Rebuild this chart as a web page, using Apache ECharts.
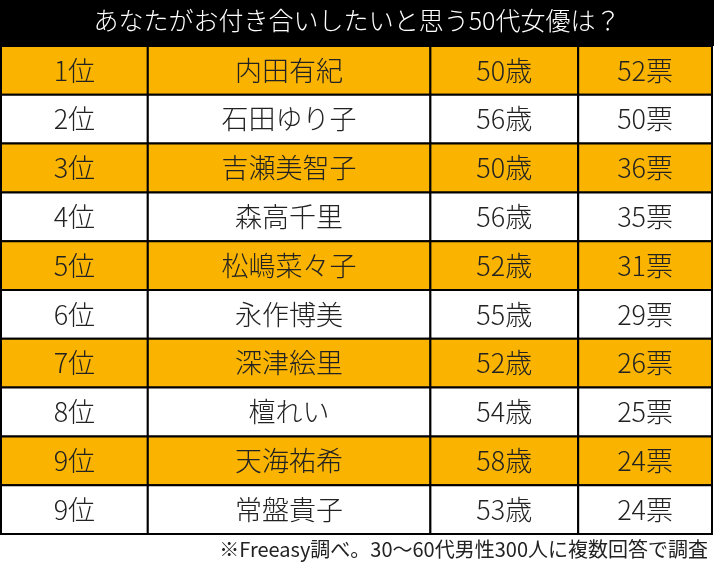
<!DOCTYPE html>
<html><head><meta charset="utf-8">
<script src="https://cdn.jsdelivr.net/npm/echarts@6/dist/echarts.min.js"></script>
<style>html,body{margin:0;padding:0;background:#fff}#main{width:714px;height:577px}</style>
</head><body><div id="main"></div>
<script>
// data
var ranks = ['1位','2位','3位','4位','5位','6位','7位','8位','9位','9位'];
var names = ['内田有紀','石田ゆり子','吉瀬美智子','森高千里','松嶋菜々子','永作博美','深津絵里','檀れい','天海祐希','常盤貴子'];
var ages = [50,56,50,56,52,55,52,54,58,53];
var votes = [52,50,36,35,31,29,26,25,24,24];
var titleText = 'あなたがお付き合いしたいと思う50代女優は？';
var noteText = '※Freeasy調べ。30～60代男性300人に複数回答で調査';

// column width ratios
var colW = [147, 283, 148, 134];
var colSum = colW.reduce(function(a,b){return a+b;},0);
var FONT = '"Noto Sans CJK JP", sans-serif';

var cells = [];
for (var i = 0; i < ranks.length; i++) {
  cells.push([0, i, ranks[i]]);
  cells.push([1, i, names[i]]);
  cells.push([2, i, ages[i] + '歳']);
  cells.push([3, i, votes[i] + '票']);
}

var chart = echarts.init(document.getElementById('main'));
chart.setOption({
  animation: false,
  grid: {left: 1, right: 2, top: 46, bottom: 43},
  xAxis: {type: 'value', min: 0, max: 4, show: false},
  yAxis: {type: 'category', data: ranks.map(function(r,i){return i;}), inverse: true, show: false},
  graphic: [
    {type: 'rect', left: 0, top: 0, shape: {width: 714, height: 46}, style: {fill: '#000'}},
    {type: 'text', left: 'center', top: 8, style: {text: titleText, fill: '#fff', font: '300 25px ' + FONT}},
    {type: 'text', right: 6, top: 539, style: {text: noteText, fill: '#222', font: '20px ' + FONT}}
  ],
  series: [{
    type: 'custom',
    data: cells,
    renderItem: function(params, api) {
      var col = api.value(0), row = api.value(1);
      var c = api.coord([0, row]);
      var h = api.size([0, 1])[1];
      var gw = params.coordSys.width, gx = params.coordSys.x;
      var x0 = gx;
      for (var k = 0; k < col; k++) x0 += colW[k] / colSum * gw;
      var w = colW[col] / colSum * gw;
      var y0 = c[1] - h / 2;
      return {
        type: 'group',
        children: [
          {type: 'rect', shape: {x: x0, y: y0, width: w, height: h},
           style: {fill: row % 2 === 0 ? '#FAB400' : '#fff', stroke: '#000', lineWidth: 2}},
          {type: 'text', style: {text: cells[params.dataIndex][2], x: x0 + w / 2, y: y0 + h / 2,
            align: 'center', verticalAlign: 'middle', fill: '#222', font: '300 27px ' + FONT}}
        ]
      };
    }
  }]
});
</script></body></html>
